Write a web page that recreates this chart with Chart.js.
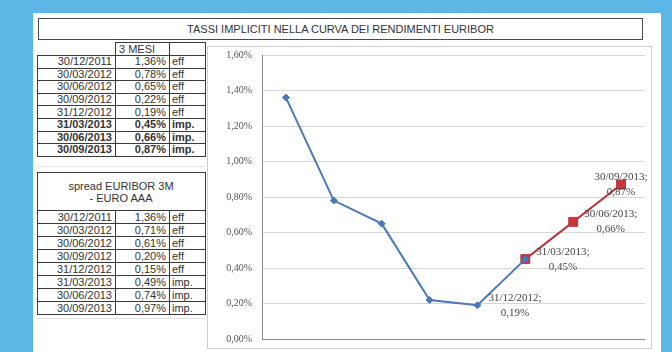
<!DOCTYPE html>
<html>
<head>
<meta charset="utf-8">
<script src="https://cdn.jsdelivr.net/npm/chart.js@4.4.1/dist/chart.umd.min.js"></script>
<style>
  html, body { margin: 0; padding: 0; }
  body {
    width: 672px; height: 352px; position: relative; overflow: hidden;
    background: #5cb6e6;
    font-family: "Liberation Sans", Arial, sans-serif;
  }
  #panel { position: absolute; left: 33px; top: 13px; width: 628px; height: 339px; background: #fff; }
  #title {
    position: absolute; left: 38px; top: 18px; width: 605px; height: 22px;
    border: 1px solid #4a4a4a; box-sizing: border-box;
    font-size: 11px; line-height: 20px; text-align: center; color: #333;
  }
  table {
    position: absolute; border-collapse: collapse; table-layout: fixed;
    font-size: 11px; color: #333;
  }
  td { border: 1px solid #3a3a3a; padding: 0 3px 0 2px; line-height: 11px; white-space: nowrap; overflow: hidden; }
  td.d { text-align: right; }
  td.v { text-align: right; }
  td.k { text-align: left; }
  tr.b td { font-weight: bold; }
  td.blank { border-left-color: transparent; border-top-color: transparent; }
  td.head { text-align: center; line-height: 12px; }
  #t1 { left: 37px; top: 42px; width: 168px; }
  #t2 { left: 37px; top: 172px; width: 168px; }
  .faint { position: absolute; height: 1px; background: #e2e2e2; }
  #chartBox {
    position: absolute; left: 207px; top: 46px; width: 445px; height: 303px;
    border: 1px solid #cfcfcf; box-sizing: border-box; background: #fff;
  }
  #chartBox canvas { position: absolute; left: 0; top: 0; }
</style>
</head>
<body>
<div id="panel"></div>
<div id="title">TASSI IMPLICITI NELLA CURVA DEI RENDIMENTI EURIBOR</div>
<table id="t1"></table>
<div class="faint" style="left:37px;top:166px;width:168px;"></div>
<table id="t2"></table>
<div class="faint" style="left:37px;top:318px;width:168px;"></div>
<div id="chartBox"><canvas id="c" width="443" height="301"></canvas></div>

<script>
// Quarter-end dates
const categories = ['30/12/2011', '30/03/2012', '30/06/2012', '30/09/2012', '31/12/2012', '31/03/2013', '30/06/2013', '30/09/2013'];
// Chart dates (also used in the data labels)
const chartDates = ['30/12/2011', '30/03/2012', '30/06/2012', '30/09/2012', '31/12/2012', '31/03/2013', '30/06/2013', '30/09/2013'];
// Euribor 3M, in percent
const euribor3m = [1.36, 0.78, 0.65, 0.22, 0.19, 0.45, 0.66, 0.87];
// Spread Euribor 3M - Euro AAA, in percent
const spreadValues = [1.36, 0.71, 0.61, 0.20, 0.15, 0.49, 0.74, 0.97];
// eff = effective, imp. = implied
const rateKind = ['eff', 'eff', 'eff', 'eff', 'eff', 'imp.', 'imp.', 'imp.'];
// Line series: observed rates, then implied forward rates
const effectiveSeries = [1.36, 0.78, 0.65, 0.22, 0.19, 0.45, null, null];
const impliedSeries = [null, null, null, null, null, 0.45, 0.66, 0.87];
// Value axis
const yTicks = [0, 0.2, 0.4, 0.6, 0.8, 1.0, 1.2, 1.4, 1.6];
// Points that carry a "date; value" label: [dataset, index]
const labelledPoints = [[0, 4], [1, 5], [1, 6], [1, 7]];

const pct = v => v.toFixed(2).replace('.', ',') + '%';

// --- side tables ---
function buildTable(el, headHtml, values, boldImplied, headHeight, rowHeight) {
  let html = '<colgroup><col style="width:78px"><col style="width:54px"><col style="width:36px"></colgroup>';
  html += headHtml(headHeight);
  categories.forEach((d, i) => {
    const cls = boldImplied && rateKind[i] === 'imp.' ? ' class="b"' : '';
    html += `<tr${cls} style="height:${rowHeight}px"><td class="d">${d}</td><td class="v">${pct(values[i])}</td><td class="k">${rateKind[i]}</td></tr>`;
  });
  el.innerHTML = html;
}
buildTable(document.getElementById('t1'),
  h => `<tr style="height:${h}px"><td class="blank"></td><td class="k" style="padding-left:3px">3 MESI</td><td></td></tr>`,
  euribor3m, true, 13, 12.6);
buildTable(document.getElementById('t2'),
  h => `<tr style="height:${h}px"><td class="head" colspan="3">spread EURIBOR 3M<br>- EURO AAA</td></tr>`,
  spreadValues, false, 38, 13);

// --- data labels: "date;" over the value ---
const pointLabels = {
  id: 'pointLabels',
  afterDatasetsDraw(chart) {
    const c = chart.ctx;
    c.save();
    c.font = '11px "Liberation Serif", serif';
    c.fillStyle = '#454545';
    c.textAlign = 'center';
    c.textBaseline = 'middle';
    labelledPoints.forEach(([ds, i]) => {
      const el = chart.getDatasetMeta(ds).data[i];
      const v = chart.data.datasets[ds].data[i];
      const l1 = chartDates[i] + ';';
      const l2 = pct(v);
      const w = Math.max(c.measureText(l1).width, c.measureText(l2).width);
      const last = i === chartDates.length - 1;
      const cx = last ? el.x : el.x + 11 + w / 2;
      c.fillText(l1, cx, el.y - 7.5);
      c.fillText(l2, cx, el.y + 7.5);
    });
    c.restore();
  }
};

new Chart(document.getElementById('c'), {
  type: 'line',
  data: {
    labels: chartDates,
    datasets: [
      {
        data: effectiveSeries,
        borderColor: '#4a78b8', backgroundColor: '#4a78b8',
        borderWidth: 2, pointStyle: 'rectRot', pointRadius: 3.5,
        pointBorderWidth: 1, tension: 0
      },
      {
        data: impliedSeries,
        borderColor: '#b8363c', backgroundColor: '#c8353a',
        borderWidth: 2, pointStyle: 'rect', pointRadius: 6.3,
        pointBorderWidth: 1, tension: 0
      }
    ]
  },
  options: {
    responsive: false,
    animation: false,
    events: [],
    layout: { autoPadding: false, padding: { top: 8, right: 6, bottom: 9, left: 0 } },
    plugins: { legend: { display: false }, tooltip: { enabled: false } },
    scales: {
      x: {
        offset: true,
        grid: { display: false },
        border: { display: false },
        ticks: { display: false },
        afterFit(s) { s.height = 0; }
      },
      y: {
        min: yTicks[0], max: yTicks[yTicks.length - 1],
        afterBuildTicks(s) { s.ticks = yTicks.map(v => ({ value: v })); },
        ticks: {
          callback: v => pct(v),
          font: { family: '"Liberation Serif", serif', size: 10 },
          color: '#555', padding: 0
        },
        grid: {
          color: ctx => (ctx.tick && ctx.tick.value === 0 ? '#8a8a8a' : '#d6d6d6'),
          drawTicks: true, tickLength: 10, tickColor: 'rgba(0,0,0,0)'
        },
        border: { color: '#8a8a8a' },
        afterFit(s) { s.width = 54; }
      }
    }
  },
  plugins: [pointLabels]
});
</script>
</body>
</html>
